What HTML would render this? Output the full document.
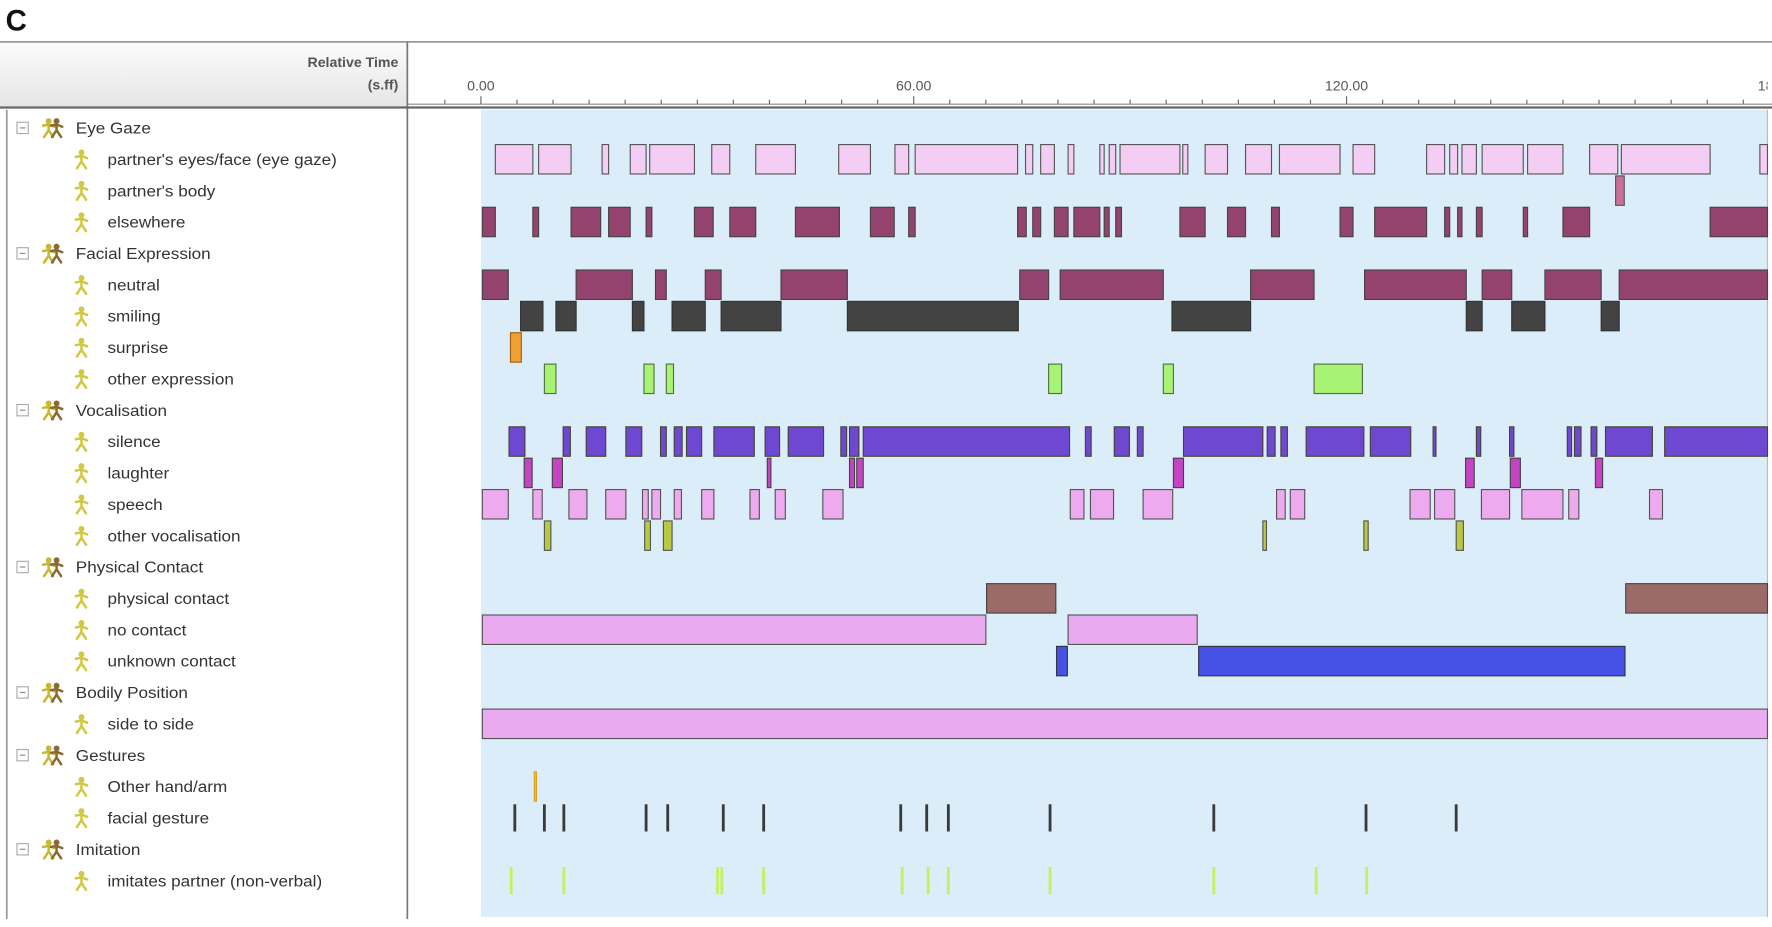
<!DOCTYPE html>
<html><head><meta charset="utf-8"><style>
html,body{margin:0;padding:0;background:#fff;}
svg{display:block;font-family:"Liberation Sans",sans-serif;}
</style></head><body>
<svg id="chart" width="1772" height="927" viewBox="0 0 1566 819" preserveAspectRatio="none" xmlns="http://www.w3.org/2000/svg">
<text x="5" y="27" font-size="26" font-weight="bold" fill="#111">C</text>
<defs><linearGradient id="hg" x1="0" y1="0" x2="0" y2="1"><stop offset="0" stop-color="#fbfbfb"/><stop offset="1" stop-color="#e6e6e6"/></linearGradient>
<clipPath id="axclip"><rect x="360" y="37" width="1202" height="60"/></clipPath></defs>
<rect x="0" y="37" width="360" height="57" fill="url(#hg)"/>
<line x1="0" y1="37" x2="1566" y2="37" stroke="#999" stroke-width="1.5"/>
<text x="352" y="59" font-size="12.5" font-weight="bold" text-anchor="end" fill="#555">Relative Time</text>
<text x="352" y="79" font-size="12.5" font-weight="bold" text-anchor="end" fill="#555">(s.ff)</text>
<rect x="425" y="97" width="1137" height="713" fill="#dbedf9"/>
<line x1="1562" y1="97" x2="1562" y2="810" stroke="#bbb" stroke-width="1"/>
<line x1="360" y1="37" x2="360" y2="812" stroke="#777" stroke-width="1.5"/>
<line x1="6" y1="97" x2="6" y2="812" stroke="#999" stroke-width="1.5"/>
<line x1="0" y1="95" x2="1566" y2="95" stroke="#666" stroke-width="2"/>
<line x1="360" y1="92" x2="1566" y2="92" stroke="#888" stroke-width="1"/>
<g id="axis" clip-path="url(#axclip)"></g>
<g id="labels"></g>
<g id="marks"></g>
</svg>
<script>
const rowNames = ["Eye Gaze","partner's eyes/face (eye gaze)","partner's body","elsewhere","Facial Expression","neutral","smiling","surprise","other expression","Vocalisation","silence","laughter","speech","other vocalisation","Physical Contact","physical contact","no contact","unknown contact","Bodily Position","side to side","Gestures","Other hand/arm","facial gesture","Imitation","imitates partner (non-verbal)"];
const groupRows = [0,4,9,14,18,20,23];
const tickLabels = ["0.00","60.00","120.00","180.00"];
const tickValues = [0,60,120,180];
const eyesFace = [[2.0,7.2],[8.0,12.5],[16.8,17.7],[20.7,22.9],[23.4,29.6],[32.0,34.5],[38.1,43.6],[49.6,54.0],[57.4,59.3],[60.2,74.4],[75.5,76.5],[77.6,79.5],[81.4,82.2],[85.8,86.4],[87.1,88.0],[88.6,96.9],[97.3,98.0],[100.4,103.5],[106.0,109.6],[110.7,119.1],[120.9,123.9],[131.1,133.6],[134.3,135.4],[136.0,138.0],[138.8,144.5],[145.1,150.0],[153.7,157.6],[158.1,170.4],[177.3,179]];
const partnerBody = [[157.3,158.5]];
const elsewhere = [[0.2,2.0],[7.2,8.0],[12.5,16.6],[17.7,20.7],[22.9,23.7],[29.6,32.2],[34.5,38.1],[43.6,49.7],[54.0,57.3],[59.3,60.2],[74.4,75.6],[76.5,77.6],[79.5,81.4],[82.2,85.8],[86.4,87.1],[88.0,88.8],[96.9,100.4],[103.5,106.0],[109.6,110.7],[119.1,120.9],[123.9,131.1],[133.6,134.3],[135.4,136.0],[138.0,138.8],[144.5,145.1],[150.0,153.7],[170.4,178.4]];
const neutral = [[0.2,3.8],[13.2,21.0],[24.2,25.7],[31.1,33.3],[41.6,50.8],[74.7,78.7],[80.3,94.6],[106.7,115.5],[122.5,136.6],[138.8,142.9],[147.5,155.3],[157.8,178.4]];
const smiling = [[5.5,8.6],[10.4,13.2],[21.0,22.6],[26.5,31.1],[33.3,41.6],[50.8,74.5],[95.8,106.7],[136.6,138.8],[142.9,147.5],[155.3,157.8]];
const surprise = [[4.1,5.6]];
const otherExpression = [[8.8,10.4],[22.6,24.0],[25.7,26.7],[78.7,80.5],[94.6,96.0],[115.5,122.2]];
const silence = [[3.9,6.1],[11.4,12.4],[14.6,17.3],[20.1,22.3],[24.9,25.7],[26.8,27.9],[28.5,30.6],[32.3,37.9],[39.4,41.4],[42.6,47.5],[49.9,50.7],[51.1,52.4],[53.0,81.6],[83.8,84.6],[87.8,89.9],[91.0,91.8],[97.4,108.4],[109.0,110.1],[110.9,111.8],[114.4,122.4],[123.3,128.9],[132.0,132.4],[138.0,138.6],[142.6,143.2],[150.6,151.2],[151.6,152.5],[153.9,154.7],[155.9,162.4],[164.1,178.4]];
const laughter = [[6.0,7.1],[9.9,11.3],[39.7,40.2],[51.1,51.8],[52.1,53.0],[96.0,97.4],[136.5,137.7],[142.7,144.1],[154.5,155.5]];
const speech = [[0.2,3.8],[7.2,8.5],[12.2,14.7],[17.3,20.1],[22.4,23.2],[23.7,24.9],[26.8,27.8],[30.6,32.3],[37.3,38.6],[40.8,42.2],[47.4,50.2],[81.7,83.6],[84.5,87.7],[91.8,95.9],[110.3,111.5],[112.2,114.2],[128.8,131.6],[132.2,135.0],[138.7,142.6],[144.3,150.0],[150.8,152.2],[162.0,163.8]];
const otherVocal = [[8.8,9.7],[22.7,23.5],[25.3,26.5],[108.4,108.9],[122.4,123.0],[135.2,136.2]];
const physicalContact = [[70.1,79.7],[158.7,178.4]];
const noContact = [[0.2,70.0],[81.4,99.3]];
const unknownContact = [[79.8,81.3],[99.5,158.6]];
const sideToSide = [[0.2,178.4]];
const otherHand = [[7.4,7.7]];
const facialGesture = [4.7,8.8,11.5,22.9,25.9,33.6,39.2,58.2,61.8,64.8,78.9,101.6,122.7,135.2];
const imitates = [4.2,11.5,32.8,33.4,39.2,58.4,62.0,64.8,78.9,101.6,115.8,122.8];

const NS="http://www.w3.org/2000/svg";
const X0=425, PXS=6.375, XMAX=1562;
function xs(t){return X0+t*PXS;}
function rowY(i){return 113+i*27.71;}
function mk(tag,parent,attrs){const e=document.createElementNS(NS,tag);for(const k in attrs)e.setAttribute(k,attrs[k]);parent.appendChild(e);return e;}

const axis=document.getElementById('axis');
for(let t=-5;t<=180;t+=5){
  const x=xs(t); if(x<362||x>1566) continue;
  const major=t%60===0;
  const tk=mk('line',axis,{x1:x,y1:major?85:88,x2:x,y2:92,stroke:'#666','stroke-width':1});
  
  
}
tickValues.forEach((v,i)=>{
  const tl=mk('text',axis,{x:xs(v),y:80,'font-size':12.5,'text-anchor':'middle',fill:'#555'});
  tl.textContent=tickLabels[i];
  
  
});

function person(g,x,y,col){
  mk('circle',g,{cx:x,cy:y-6,r:2.6,fill:col});
  mk('path',g,{d:`M${x-5} ${y-2} L${x} ${y-3} L${x+5} ${y-1} M${x} ${y-3} L${x} ${y+2} L${x-4} ${y+8} M${x} ${y+2} L${x+4} ${y+8}`,stroke:col,'stroke-width':2.2,fill:'none','stroke-linecap':'round'});
}
const labels=document.getElementById('labels');
rowNames.forEach((n,i)=>{
  const y=rowY(i); const grp=groupRows.includes(i);
  const g=mk('g',labels,{});
  
  
  if(grp){
    const b=mk('rect',g,{x:15,y:y-5,width:10,height:10,fill:'#fff',stroke:'#aaa','stroke-width':1});
    
    
    mk('line',g,{x1:17.5,y1:y,x2:22.5,y2:y,stroke:'#888','stroke-width':1});
    person(g,43,y,'#c8b830'); person(g,50,y,'#8a6a30');
  } else {
    person(g,72,y,'#d0c840');
  }
  const t=mk('text',g,{x:grp?67:95,y:y+5,'font-size':14,fill:'#333'});
  t.textContent=n;
  const w=t.getComputedTextLength();
  if(w>0){t.setAttribute('textLength',w*1.08);t.setAttribute('lengthAdjust','spacingAndGlyphs');}
});

const marks=document.getElementById('marks');
function drawBars(data,row,fill,stroke,name){
  const y=rowY(row);
  data.forEach(d=>{
    const a=xs(d[0]), b=Math.min(xs(d[1]),XMAX);
    if(b<=a) return;
    const r=mk('rect',marks,{x:a,y:y-13,width:b-a,height:26,fill:fill,stroke:stroke,'stroke-width':1});
    
    
  });
}
function drawTicks(data,row,color,w,name){
  const y=rowY(row);
  data.forEach(t=>{
    const r=mk('rect',marks,{x:xs(t)-w/2,y:y-12,width:w,height:24,fill:color});
    
    
  });
}
drawBars(eyesFace,1,'#f4cdf4','#555','eye-gaze-bar');
drawBars(partnerBody,2,'#c8709a','#555','partner-body-bar');
drawBars(elsewhere,3,'#94436e','#444','elsewhere-bar');
drawBars(neutral,5,'#94436e','#444','neutral-bar');
drawBars(smiling,6,'#434343','#333','smiling-bar');
drawBars(surprise,7,'#f0a030','#a06010','surprise-bar');
drawBars(otherExpression,8,'#a8f274','#507040','other-expression-bar');
drawBars(silence,10,'#6f48d2','#443','silence-bar');
drawBars(laughter,11,'#c444c4','#444','laughter-bar');
drawBars(speech,12,'#eeaaee','#555','speech-bar');
drawBars(otherVocal,13,'#b8c840','#555','other-vocalisation-bar');
drawBars(physicalContact,15,'#9c6a68','#444','physical-contact-bar');
drawBars(noContact,16,'#e9aaf0','#555','no-contact-bar');
drawBars(unknownContact,17,'#4652e6','#334','unknown-contact-bar');
drawBars(sideToSide,19,'#e9aaf0','#555','side-to-side-bar');
drawBars(otherHand,21,'#f0c030','#e0a020','other-hand-arm-bar');
drawTicks(facialGesture,22,'#3a3a3a',2.5,'facial-gesture-mark');
drawTicks(imitates,24,'#c4f060',2.5,'imitation-mark');
</script>
</body></html>
